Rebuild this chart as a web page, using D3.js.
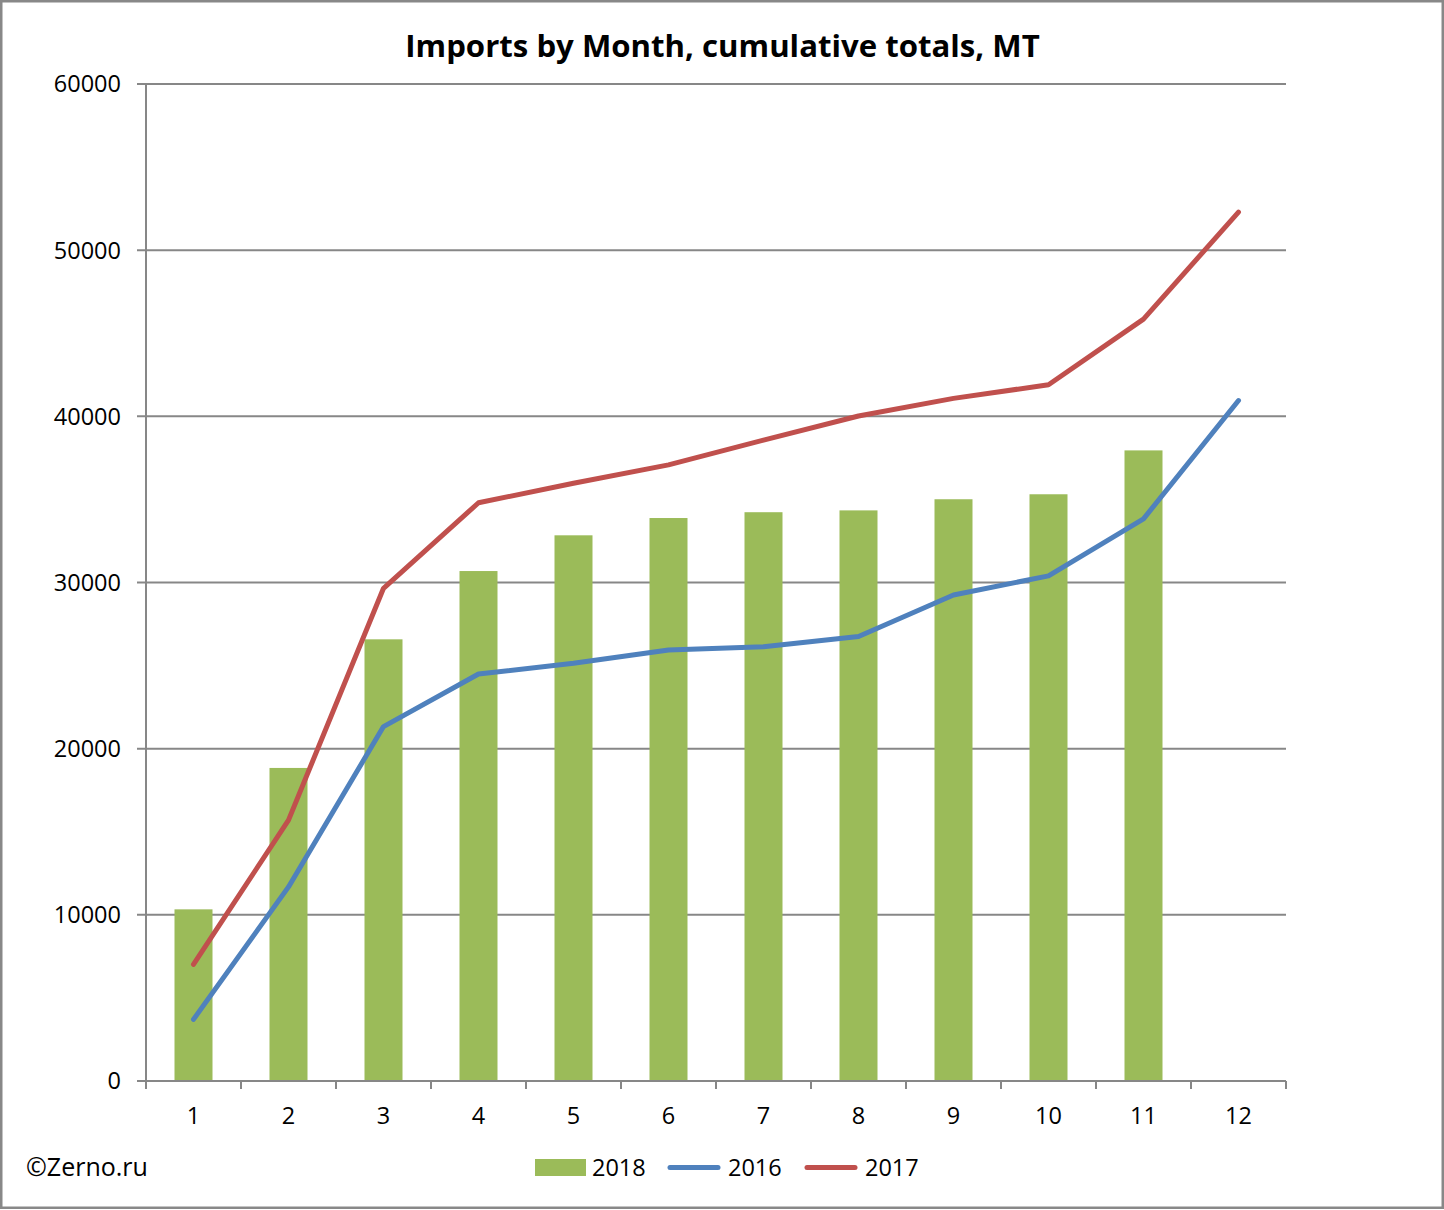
<!DOCTYPE html>
<html>
<head>
<meta charset="utf-8">
<script src="https://cdn.jsdelivr.net/npm/d3@7"></script>
<style>
  html, body { margin: 0; padding: 0; background: #fff; }
  svg { display: block; }
  text { font-family: "Open Sans", "Liberation Sans", sans-serif; fill: #000; }
</style>
</head>
<body>
<div id="chart"></div>
<script>
// ---- data ----
const months = ["1","2","3","4","5","6","7","8","9","10","11","12"];
const imports2018 = [10330, 18840, 26580, 30690, 32840, 33880, 34230, 34340, 35010, 35310, 37950, null];
const imports2016 = [3710, 11680, 21330, 24490, 25140, 25940, 26140, 26750, 29250, 30400, 33830, 40950];
const imports2017 = [7020, 15700, 29650, 34800, 35970, 37080, 38570, 40020, 41080, 41900, 45850, 52290];
const yTicks = [0, 10000, 20000, 30000, 40000, 50000, 60000];
const titleText = "Imports by Month, cumulative totals, MT";
const creditText = "©Zerno.ru";
const legendItems = [
  { label: "2018", kind: "bar", color: "#9BBB59" },
  { label: "2016", kind: "line", color: "#4F81BD" },
  { label: "2017", kind: "line", color: "#C0504D" }
];

// ---- layout ----
const W = 1444, H = 1210;
const plot = { left: 146, right: 1286, top: 84, bottom: 1081 };
const gridColor = "#878787";

const svg = d3.select("#chart").append("svg").attr("width", W).attr("height", H);

// chart border
svg.append("rect").attr("x", 1.25).attr("y", 1.25).attr("width", W - 2.5).attr("height", H - 3.5)
  .attr("fill", "#fff").attr("stroke", "#888").attr("stroke-width", 2.5);

const x = d3.scaleBand().domain(months).range([plot.left, plot.right]).paddingInner(0.6).paddingOuter(0.3);
const y = d3.scaleLinear().domain([0, 60000]).range([plot.bottom, plot.top]);
const cx = d => x(d) + x.bandwidth() / 2;

// gridlines + y tick marks
svg.append("g").selectAll("line").data(yTicks.filter(t => t > 0)).join("line")
  .attr("x1", plot.left - 9).attr("x2", plot.right)
  .attr("y1", d => y(d)).attr("y2", d => y(d))
  .attr("stroke", gridColor).attr("stroke-width", 2);

// y labels
svg.append("g").selectAll("text").data(yTicks).join("text")
  .attr("x", 121).attr("y", d => y(d)).attr("dy", "0.36em")
  .attr("text-anchor", "end").attr("font-size", 23.5)
  .text(d => d);

// bars
svg.append("g").selectAll("rect").data(months.map((m, i) => ({ m, v: imports2018[i] })).filter(d => d.v != null))
  .join("rect")
  .attr("x", d => x(d.m)).attr("width", x.bandwidth())
  .attr("y", d => y(d.v)).attr("height", d => y(0) - y(d.v))
  .attr("fill", "#9BBB59");

// axes
const step = x.step();
svg.append("line").attr("x1", plot.left).attr("x2", plot.left).attr("y1", plot.top).attr("y2", plot.bottom + 8)
  .attr("stroke", gridColor).attr("stroke-width", 2);
svg.append("line").attr("x1", plot.left - 9).attr("x2", plot.right).attr("y1", plot.bottom).attr("y2", plot.bottom)
  .attr("stroke", gridColor).attr("stroke-width", 2);
svg.append("g").selectAll("line").data(d3.range(months.length + 1)).join("line")
  .attr("x1", i => plot.left + i * step).attr("x2", i => plot.left + i * step)
  .attr("y1", plot.bottom).attr("y2", plot.bottom + 8)
  .attr("stroke", gridColor).attr("stroke-width", 2);

// x labels
svg.append("g").selectAll("text").data(months).join("text")
  .attr("x", d => cx(d)).attr("y", 1124)
  .attr("text-anchor", "middle").attr("font-size", 23.5)
  .text(d => d);

// lines
const line = d3.line().x(d => cx(d.m)).y(d => y(d.v)).curve(d3.curveLinear);
[[imports2016, "#4F81BD"], [imports2017, "#C0504D"]].forEach(([vals, col]) => {
  svg.append("path").datum(months.map((m, i) => ({ m, v: vals[i] })))
    .attr("d", line).attr("fill", "none").attr("stroke", col)
    .attr("stroke-width", 5).attr("stroke-linecap", "round").attr("stroke-linejoin", "round");
});

// title
const title = svg.append("text").attr("x", 722.5).attr("y", 57).attr("text-anchor", "middle")
  .attr("font-weight", "bold").attr("font-size", 30).text(titleText);
const tw = title.node().getComputedTextLength();
title.attr("font-size", 30 * 635 / tw);

// credit
const credit = svg.append("text").attr("x", 26).attr("y", 1176).attr("font-size", 23.5).text(creditText);
const cw = credit.node().getComputedTextLength();
credit.attr("font-size", 23.5 * 122 / cw);

// legend
const legendPos = [
  { sx: 535, tx: 592 },
  { sx: 668, tx: 728 },
  { sx: 805, tx: 865 }
];
const lg = svg.append("g");
legendItems.forEach((it, i) => {
  const p = legendPos[i];
  if (it.kind === "bar") {
    lg.append("rect").attr("x", p.sx).attr("y", 1159).attr("width", 51).attr("height", 17).attr("fill", it.color);
  } else {
    lg.append("line").attr("x1", p.sx + 2).attr("x2", p.sx + 50).attr("y1", 1167.5).attr("y2", 1167.5)
      .attr("stroke", it.color).attr("stroke-width", 5).attr("stroke-linecap", "round");
  }
  lg.append("text").attr("x", p.tx).attr("y", 1176).attr("font-size", 23.5).text(it.label);
});
</script>
</body>
</html>
